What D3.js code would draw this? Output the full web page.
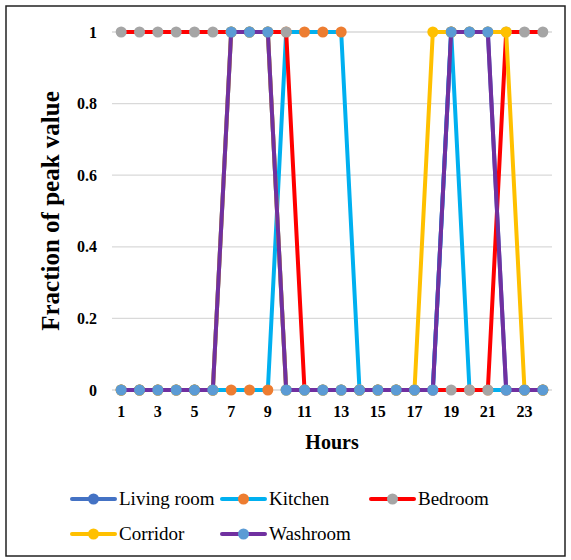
<!DOCTYPE html>
<html>
<head>
<meta charset="utf-8">
<script src="https://cdn.jsdelivr.net/npm/d3@7/dist/d3.min.js"></script>
<style>
  html, body { margin: 0; padding: 0; background: #fff; }
  svg { display: block; }
  text { font-family: "Liberation Serif", "Times New Roman", serif; fill: #000; }
</style>
</head>
<body>
<svg id="chart" width="571" height="560"></svg>
<script>
// Hourly occupancy schedules, as a fraction of each room's peak value
const hours = d3.range(1, 25);
const xTickLabels = [1, 3, 5, 7, 9, 11, 13, 15, 17, 19, 21, 23];
const yTickValues = [0, 0.2, 0.4, 0.6, 0.8, 1];

const livingRoom = [0,0,0,0,0,0,1,1,1,0,0,0,0,0,0,0,0,0,1,1,1,0,0,0];
const kitchen    = [0,0,0,0,0,0,0,0,0,1,1,1,1,0,0,0,0,0,1,0,0,0,0,0];
const bedroom    = [1,1,1,1,1,1,1,1,1,1,0,0,0,0,0,0,0,0,0,0,0,1,1,1];
const corridor   = [0,0,0,0,0,0,1,1,1,0,0,0,0,0,0,0,0,1,1,1,1,1,0,0];
const washroom   = [0,0,0,0,0,0,1,1,1,0,0,0,0,0,0,0,0,0,1,1,1,0,0,0];

const seriesNames   = ["Living room", "Kitchen", "Bedroom", "Corridor", "Washroom"];
const seriesValues  = [livingRoom, kitchen, bedroom, corridor, washroom];
const lineColors    = ["#4472C4", "#00B0F0", "#FF0000", "#FFC000", "#7030A0"];
const markerColors  = ["#4472C4", "#ED7D31", "#A5A5A5", "#FFC000", "#5B9BD5"];

const series = seriesNames.map((name, i) => ({
  name,
  line: lineColors[i],
  marker: markerColors[i],
  points: hours.map((h, j) => ({ h, v: seriesValues[i][j] }))
}));

const serif = '"Liberation Serif", "Times New Roman", serif';
const svg = d3.select("#chart");

// outer frame
svg.append("rect")
  .attr("x", 6).attr("y", 6).attr("width", 559).attr("height", 550)
  .attr("fill", "none").attr("stroke", "#222").attr("stroke-width", 1.5);

const plot = { left: 112, right: 552, top: 32, bottom: 390 };

const x = d3.scaleBand().domain(hours).range([plot.left, plot.right]).paddingInner(0).paddingOuter(0);
const cx = h => x(h) + x.bandwidth() / 2;
const y = d3.scaleLinear().domain([0, 1]).range([plot.bottom, plot.top]);

// horizontal gridlines
svg.append("g")
  .selectAll("line")
  .data(yTickValues)
  .join("line")
  .attr("x1", plot.left).attr("x2", plot.right)
  .attr("y1", d => y(d)).attr("y2", d => y(d))
  .attr("stroke", "#D9D9D9").attr("stroke-width", 1.3);

// y axis labels
const yAxis = d3.axisLeft(y).tickValues(yTickValues).tickSize(0).tickPadding(0)
  .tickFormat(d => d3.format("~g")(d));
const gy = svg.append("g").attr("transform", `translate(97,0)`).call(yAxis);
gy.attr("font-family", serif);
gy.select(".domain").remove();
gy.selectAll("text")
  .style("font-family", serif)
  .style("font-size", "16px").style("font-weight", "bold").attr("fill", "#000");

// x axis labels (odd hours)
const xAxis = d3.axisBottom(x).tickValues(xTickLabels).tickSize(0).tickPadding(0);
const gx = svg.append("g").attr("transform", `translate(0,406)`).call(xAxis);
gx.attr("font-family", serif);
gx.select(".domain").remove();
gx.selectAll("text")
  .style("font-family", serif)
  .style("font-size", "16px").style("font-weight", "bold").attr("fill", "#000");

// axis titles
svg.append("text")
  .attr("x", (plot.left + plot.right) / 2).attr("y", 449)
  .attr("text-anchor", "middle")
  .style("font-size", "20px").style("font-weight", "bold")
  .text("Hours");

svg.append("text")
  .attr("transform", `translate(59,${(plot.top + plot.bottom) / 2}) rotate(-90)`)
  .attr("text-anchor", "middle")
  .style("font-size", "25px").style("font-weight", "bold")
  .text("Fraction of peak value");

// series: each line followed by its markers
const line = d3.line().x(d => cx(d.h)).y(d => y(d.v));
const gs = svg.append("g");
series.forEach(s => {
  const g = gs.append("g");
  g.append("path")
    .attr("d", line(s.points))
    .attr("fill", "none")
    .attr("stroke", s.line)
    .attr("stroke-width", 4)
    .attr("stroke-linejoin", "round");
  g.selectAll("circle")
    .data(s.points)
    .join("circle")
    .attr("cx", d => cx(d.h)).attr("cy", d => y(d.v))
    .attr("r", 5.5)
    .attr("fill", s.marker);
});

// legend
const legendItems = [
  { i: 0, x: 72,  y: 499 },
  { i: 1, x: 222, y: 499 },
  { i: 2, x: 371, y: 499 },
  { i: 3, x: 72,  y: 534 },
  { i: 4, x: 222, y: 534 }
];
const lg = svg.append("g");
legendItems.forEach(it => {
  const s = series[it.i];
  const g = lg.append("g").attr("transform", `translate(${it.x},${it.y})`);
  g.append("line").attr("x1", 0).attr("x2", 43).attr("y1", 0).attr("y2", 0)
    .attr("stroke", s.line).attr("stroke-width", 4).attr("stroke-linecap", "round");
  g.append("circle").attr("cx", 21.5).attr("cy", 0).attr("r", 5.5).attr("fill", s.marker);
  g.append("text").attr("x", 47).attr("y", 6)
    .style("font-size", "19px")
    .text(s.name);
});
</script>
</body>
</html>
